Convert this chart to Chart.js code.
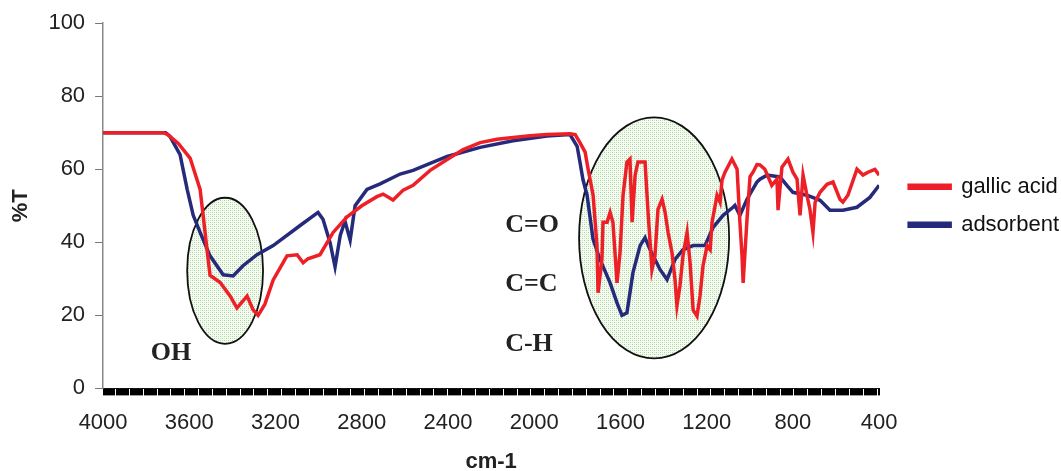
<!DOCTYPE html>
<html>
<head>
<meta charset="utf-8">
<script src="https://cdn.jsdelivr.net/npm/chart.js@4.4.1/dist/chart.umd.min.js"></script>
<style>
  html, body { margin: 0; padding: 0; background: #fff; }
  #wrap { width: 1061px; height: 471px; }
</style>
</head>
<body>
<div id="wrap"><canvas id="chart-ir"></canvas></div>
<script>
// IR spectra, wavenumber (cm-1) vs %T
const gallicWn = [4000, 3720, 3700, 3650, 3596, 3550, 3536, 3518, 3504, 3457, 3411, 3379, 3350, 3332, 3304, 3281, 3250,
  3211, 3147, 3100, 3072, 3050, 2994, 2933, 2868, 2800, 2730, 2701, 2655, 2608, 2562, 2483, 2404, 2330, 2251, 2173,
  2098, 2019, 1941, 1834, 1810, 1788, 1764, 1750, 1727, 1709, 1704, 1686, 1681, 1662, 1648, 1635, 1616, 1602, 1588,
  1570, 1556, 1546, 1532, 1519, 1486, 1472, 1454, 1440, 1426, 1407, 1393, 1379, 1361, 1347, 1338, 1324, 1310, 1291,
  1277, 1263, 1245, 1231, 1217, 1198, 1184, 1175, 1152, 1138, 1129, 1115, 1083, 1059, 1046, 1036, 1031, 1013, 999,
  985, 967, 953, 930, 898, 874, 869, 851, 823, 800, 781, 767, 753, 735, 721, 707, 697, 674, 642, 614, 582, 568, 545,
  503, 475, 452, 420, 400];
const gallicT = [70, 70, 69.5, 67, 63, 54.5, 47.4, 38, 31, 29, 25.3, 22, 24, 25.3, 21.5, 20, 23,
  29.7, 36.3, 36.6, 34.4, 35.5, 36.6, 42.7, 47, 50, 52.5, 53.2, 51.6, 54.3, 55.6, 59.7, 62.7, 65.4, 67.3, 68.2,
  68.7, 69.2, 69.5, 69.7, 69.5, 67.3, 64.7, 60, 52.9, 39.1, 26.2, 35.3, 45.5, 45.5, 48.2, 45.5, 28.9, 37.2, 52.9,
  62, 62.8, 45.5, 58.4, 62, 62, 48.2, 32.5, 36.3, 49, 51.8, 48.2, 42.7, 37.2, 29.8, 22.6, 28.1, 36.3, 42.7,
  34.4, 21.5, 19.8, 25.3, 33.6, 39.1, 38, 45.5, 52.9, 51, 57, 59.2, 62.8, 60, 45.5, 36.3, 28.9, 46.3, 58,
  59.2, 61.3, 61.2, 60, 55.6, 57.3, 48.8, 60.6, 62.8, 59.2, 57.3, 47.4, 58.4, 52.9, 49, 42.7, 51, 53.7, 55.9, 56.5, 51.8, 51, 52.9,
  60, 58.4, 59.2, 60, 58.4];

const adsWn = [4000, 3710, 3690, 3643, 3610, 3582, 3550, 3504, 3443, 3397, 3351, 3286, 3211, 3086, 3003, 2980, 2947,
  2924, 2900, 2878, 2854, 2831, 2776, 2715, 2622, 2562, 2404, 2251, 2098, 1941, 1834, 1801, 1788, 1774, 1755, 1727,
  1695, 1648, 1616, 1593, 1570, 1542, 1509, 1486, 1463, 1416, 1384, 1347, 1310, 1263, 1208, 1171, 1124, 1078, 1069,
  1046, 1013, 967, 953, 920, 860, 828, 800, 735, 674, 628, 568, 503, 443, 400];
const adsT = [70, 70, 69, 64, 54.5, 47.4, 42.7, 36.3, 31.1, 30.8, 33.6, 36.6, 39.1, 44.6, 48.2, 46.3, 39.9,
  33.3, 41.9, 45.8, 40.6, 50, 54.5, 56, 58.7, 59.7, 63.5, 66, 67.8, 69.1, 69.5, 66.3, 62, 57.2, 52.9, 40.8,
  35.3, 28.9, 23.4, 20, 20.7, 31.7, 39.1, 41.3, 38, 32.5, 29.8, 35.3, 38, 39.1, 39.1, 44, 47.4, 49.6, 50.1,
  47.4, 51.8, 56.5, 57.3, 58.4, 57.9, 55.6, 53.7, 52.9, 51.5, 48.8, 48.8, 49.6, 52.3, 55.6];

const seriesNames = ['gallic acid', 'adsorbent'];
const xTickStep = 400;

// circled regions: centre wavenumber, centre %T, half width (cm-1), half height (%T)
const circleWn = [3434, 1444];
const circleT = [32.2, 41.2];
const circleRx = [176, 348];
const circleRy = [20, 33];

// band labels
const noteText = ['OH', 'C=O', 'C=C', 'C-H'];
const noteWn = [3685, 2135, 2135, 2135];
const noteT = [9.5, 44.7, 28.5, 12];
const noteAlign = ['center', 'left', 'left', 'left'];

function toPoints(xs, ys) {
  return xs.map((x, i) => ({ x: x, y: ys[i] }));
}

// green dotted fill like the excel pattern
function makePattern(ctx) {
  const c = document.createElement('canvas');
  c.width = 4; c.height = 4;
  const p = c.getContext('2d');
  p.fillStyle = 'rgb(246,251,244)';
  p.fillRect(0, 0, 4, 4);
  p.fillStyle = 'rgb(165,215,150)';
  p.fillRect(0, 0, 1, 1);
  p.fillRect(2, 2, 1, 1);
  p.fillStyle = 'rgb(205,234,196)';
  p.fillRect(2, 0, 1, 1);
  p.fillRect(0, 2, 1, 1);
  return ctx.createPattern(c, 'repeat');
}

const notesPlugin = {
  id: 'irNotes',
  beforeDatasetsDraw(chart) {
    const ctx = chart.ctx;
    const xs = chart.scales.x, ys = chart.scales.y;
    const pat = makePattern(ctx);
    ctx.save();
    for (let i = 0; i < circleWn.length; i++) {
      const cx = xs.getPixelForValue(circleWn[i]);
      const cy = ys.getPixelForValue(circleT[i]);
      const rx = Math.abs(xs.getPixelForValue(circleWn[i] + circleRx[i]) - cx);
      const ry = Math.abs(ys.getPixelForValue(circleT[i] + circleRy[i]) - cy);
      ctx.beginPath();
      ctx.ellipse(cx, cy, rx, ry, 0, 0, Math.PI * 2);
      ctx.fillStyle = pat;
      ctx.fill();
      ctx.lineWidth = 1.8;
      ctx.strokeStyle = '#111';
      ctx.stroke();
    }
    ctx.restore();
  },
  afterDatasetsDraw(chart) {
    const ctx = chart.ctx;
    const xs = chart.scales.x, ys = chart.scales.y;
    ctx.save();
    ctx.font = 'bold 26px "Liberation Serif", "Times New Roman", serif';
    ctx.fillStyle = '#222';
    ctx.textBaseline = 'middle';
    noteText.forEach((t, i) => {
      ctx.textAlign = noteAlign[i];
      ctx.fillText(t, xs.getPixelForValue(noteWn[i]), ys.getPixelForValue(noteT[i]));
    });
    ctx.restore();
  }
};

const ctx = document.getElementById('chart-ir').getContext('2d');
const sans = '"Liberation Sans", Arial, sans-serif';

const irChart = new Chart(ctx, {
  type: 'line',
  data: {
    datasets: [{
      label: seriesNames[0],
      data: toPoints(gallicWn, gallicT),
      borderColor: '#ee2027',
      backgroundColor: '#ee2027',
      borderWidth: 3.5,
      pointRadius: 0,
      tension: 0
    }, {
      label: seriesNames[1],
      data: toPoints(adsWn, adsT),
      borderColor: '#262a7a',
      backgroundColor: '#262a7a',
      borderWidth: 3.5,
      pointRadius: 0,
      tension: 0
    }]
  },
  options: {
    responsive: true,
    maintainAspectRatio: false,
    animation: false,
    layout: { padding: { top: 17, right: -8, left: 8, bottom: 2 } },
    plugins: {
      tooltip: { enabled: false },
      legend: {
        position: 'right',
        fullSize: false,
        labels: {
          boxWidth: 41,
          boxHeight: 3,
          padding: 16,
          color: '#111',
          font: { family: sans, size: 22 }
        }
      }
    },
    scales: {
      x: {
        type: 'linear',
        reverse: true,
        min: 400,
        max: 4000,
        grid: { drawOnChartArea: false, tickLength: 7, color: '#000', lineWidth: 1 },
        border: { display: true, color: '#111', width: 1 },
        ticks: {
          stepSize: 5,
          autoSkip: false,
          maxRotation: 0,
          minRotation: 0,
          padding: 14,
          color: '#222',
          font: { family: sans, size: 22 },
          callback: (v) => (v % xTickStep === 0 ? String(v) : '')
        },
        title: {
          display: true,
          text: 'cm-1',
          color: '#222',
          font: { family: sans, size: 22, weight: 'bold', lineHeight: 0.6 },
          padding: { top: 6, bottom: 0 }
        }
      },
      y: {
        min: 0,
        max: 100,
        grid: { drawOnChartArea: false, tickLength: 8, color: '#777' },
        border: { display: true, color: '#888', width: 1.5 },
        ticks: {
          stepSize: 20,
          padding: 10,
          color: '#222',
          font: { family: sans, size: 22 }
        },
        title: {
          display: true,
          text: '%T',
          color: '#222',
          font: { family: sans, size: 22, weight: 'bold' },
          padding: { top: 0, bottom: 4 }
        }
      },
      // empty spacer between plot and legend
      gap: {
        type: 'linear',
        position: 'right',
        display: true,
        grid: { display: false },
        border: { display: false },
        ticks: { display: false },
        afterFit: (s) => { s.width = 14; }
      }
    }
  },
  plugins: [notesPlugin]
});
</script>
</body>
</html>
